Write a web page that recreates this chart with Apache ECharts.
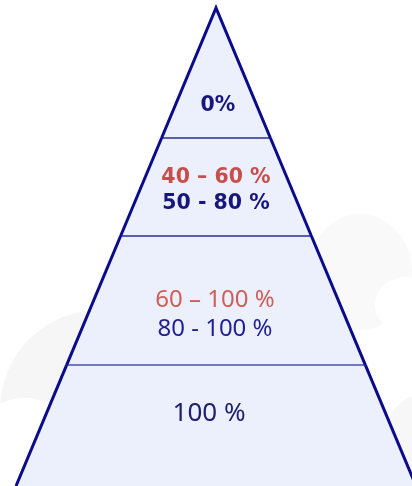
<!DOCTYPE html>
<html>
<head>
<meta charset="utf-8">
<script src="https://cdn.jsdelivr.net/npm/echarts@6/dist/echarts.min.js"></script>
<style>
  html, body { margin: 0; padding: 0; background: #fff; }
  #main { width: 412px; height: 486px; }
</style>
</head>
<body>
<div id="main"></div>
<script>
// tiers of the pyramid, depth measured from the apex (0) to the bottom edge (100)
var tierNames = ['apex', 'upper', 'middle', 'base'];
var tierTop = [0, 27.2, 47.7, 74.7];
var tierBottom = [27.2, 47.7, 74.7, 100];
var redLabels = ['', '40 – 60 %', '60 – 100 %', ''];
var blueLabels = ['0%', '50 - 80 %', '80 - 100 %', '100 %'];

var chart = echarts.init(document.getElementById('main'));

// where the text block sits inside each tier (0 = top edge, 1 = bottom edge)
var labelAt = [0.75, 0.54, 0.61, 0.4];
var labelShift = [2, 0, -1, -7];
var dividerColor = ['#2a2a9c', '#2a2a9c', '#2a2a9c', '#7378c2'];

var data = tierNames.map(function (name, i) {
  return { name: name, value: [i, tierTop[i], tierBottom[i]] };
});

function renderItem(params, api) {
  var i = api.value(0);
  var d0 = api.value(1);
  var d1 = api.value(2);
  // half-width grows linearly with depth
  var w0 = d0 / 100, w1 = d1 / 100;
  var p = function (x, d) { return api.coord([x, d]); };
  var children = [];

  children.push({
    type: 'polygon',
    shape: { points: [p(-w0, d0), p(w0, d0), p(w1, d1), p(-w1, d1)] },
    style: { fill: '#ebf0fc' }
  });

  if (i > 0) {
    children.push({
      type: 'line',
      shape: { x1: p(-w0, d0)[0], y1: p(-w0, d0)[1], x2: p(w0, d0)[0], y2: p(w0, d0)[1] },
      style: { stroke: dividerColor[i], lineWidth: i == 3 ? 2 : 1.5 }
    });
  }

  // walls
  if (i == 0) {
    children.push({
      type: 'polyline',
      z2: 10,
      shape: { points: [p(-w1, d1), p(0, 0), p(w1, d1)] },
      style: { stroke: '#0b0b8a', lineWidth: 3, fill: null, lineJoin: 'miter' }
    });
  } else {
    children.push({
      type: 'line', z2: 10,
      shape: { x1: p(-w0, d0)[0], y1: p(-w0, d0)[1], x2: p(-w1, d1)[0], y2: p(-w1, d1)[1] },
      style: { stroke: '#0b0b8a', lineWidth: 3 }
    });
    children.push({
      type: 'line', z2: 10,
      shape: { x1: p(w0, d0)[0], y1: p(w0, d0)[1], x2: p(w1, d1)[0], y2: p(w1, d1)[1] },
      style: { stroke: '#0b0b8a', lineWidth: 3 }
    });
  }

  var c = p(0, d0 + (d1 - d0) * labelAt[i]);
  var bold = i < 2;
  var txt = redLabels[i] ? '{r|' + redLabels[i] + '}\n{b|' + blueLabels[i] + '}' : '{b|' + blueLabels[i] + '}';
  children.push({
    type: 'text',
    z2: 11,
    x: c[0] + labelShift[i],
    y: c[1],
    style: {
      text: txt,
      align: 'center',
      verticalAlign: 'middle',
      rich: {
        r: {
          fontFamily: bold ? 'DejaVu Sans' : 'Noto Sans',
          fontWeight: bold ? 'bold' : 'normal',
          fontSize: bold ? 20.5 : 24,
          lineHeight: bold ? 26 : 29,
          align: 'center',
          fill: bold ? '#c84e4b' : '#cf5d59'
        },
        b: {
          fontFamily: bold ? 'DejaVu Sans' : 'Noto Sans',
          fontWeight: bold ? 'bold' : 'normal',
          fontSize: bold ? 20.5 : (i == 3 ? 26 : 24),
          lineHeight: bold ? 26 : 29,
          align: 'center',
          fill: bold ? '#16167c' : (i == 3 ? '#20206e' : '#1f1f92')
        }
      }
    }
  });

  return { type: 'group', children: children };
}

var option = {
  backgroundColor: '#ffffff',
  animation: false,
  grid: { left: 0, right: 0, top: 8, bottom: 0 },
  xAxis: { type: 'value', min: -1.08, max: 0.98, show: false },
  yAxis: { type: 'value', min: 0, max: 100, inverse: true, show: false },
  // faint cloud shapes in the background
  graphic: [
    { type: 'circle', shape: { cx: 100, cy: 410, r: 100 }, style: { fill: '#f6f6f7' }, z: -2 },
    { type: 'circle', shape: { cx: 25, cy: 460, r: 62 }, style: { fill: '#ffffff' }, z: -1 },
    { type: 'ellipse', shape: { cx: 360, cy: 272, rx: 52, ry: 58 }, style: { fill: '#f9f9f9' }, z: -2 },
    { type: 'ellipse', shape: { cx: 405, cy: 305, rx: 30, ry: 28 }, style: { fill: '#ffffff' }, z: -1 },
    { type: 'ellipse', shape: { cx: 420, cy: 440, rx: 35, ry: 45 }, style: { fill: '#f7f7f8' }, z: -2 }
  ],
  series: [{
    type: 'custom',
    renderItem: renderItem,
    encode: { x: [1], y: [1, 2] },
    data: data
  }]
};

chart.setOption(option);
</script>
</body>
</html>
